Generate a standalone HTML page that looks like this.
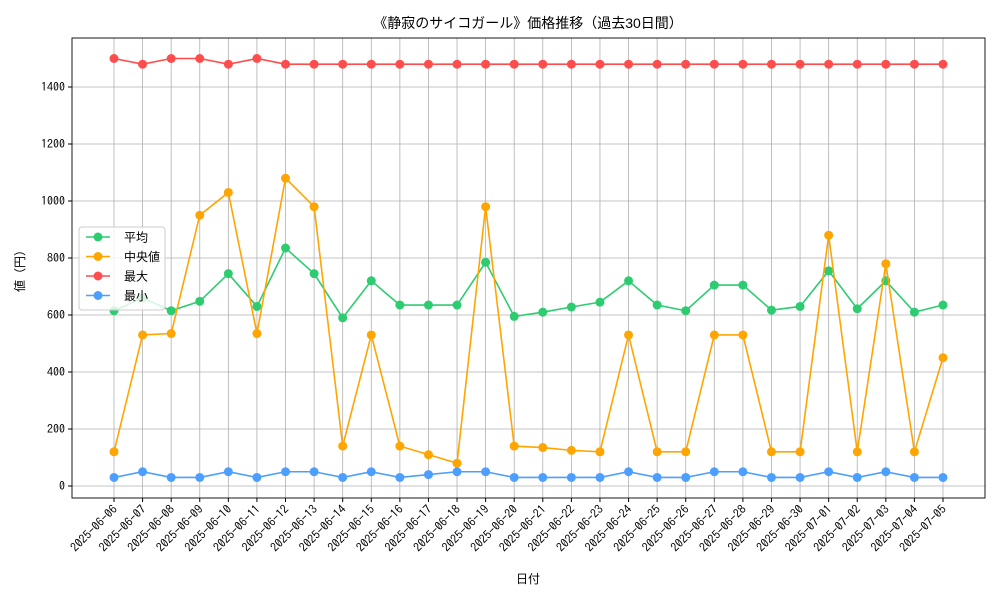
<!DOCTYPE html>
<html><head><meta charset="utf-8"><style>
body{margin:0;background:#fff}
svg text{font-family:"Liberation Sans","Noto Sans CJK JP",sans-serif;fill:#000}
svg text.tick{font-family:"IPAGothic","Noto Sans CJK JP",sans-serif}
</style></head><body>
<svg id="c" width="1000" height="600" xmlns="http://www.w3.org/2000/svg"></svg>
<script>
const dates=["2025-06-06","2025-06-07","2025-06-08","2025-06-09","2025-06-10","2025-06-11","2025-06-12","2025-06-13","2025-06-14","2025-06-15","2025-06-16","2025-06-17","2025-06-18","2025-06-19","2025-06-20","2025-06-21","2025-06-22","2025-06-23","2025-06-24","2025-06-25","2025-06-26","2025-06-27","2025-06-28","2025-06-29","2025-06-30","2025-07-01","2025-07-02","2025-07-03","2025-07-04","2025-07-05"];
const meanVals=[615,660,615,648,745,630,835,745,590,720,635,635,635,785,595,610,628,645,720,635,615,705,705,617,630,755,622,720,610,635];
const medianVals=[120,530,535,950,1030,535,1080,980,140,530,140,110,80,980,140,135,125,120,530,120,120,530,530,120,120,880,120,780,120,450];
const maxVals=[1500,1480,1500,1500,1480,1500,1480,1480,1480,1480,1480,1480,1480,1480,1480,1480,1480,1480,1480,1480,1480,1480,1480,1480,1480,1480,1480,1480,1480,1480];
const minVals=[30,50,30,30,50,30,50,50,30,50,30,40,50,50,30,30,30,30,50,30,30,50,50,30,30,50,30,50,30,30];
const yTicks=[0,200,400,600,800,1000,1200,1400];
const series=[["平均",meanVals,"#2ecc71","mean"],["中央値",medianVals,"#ffa500","median"],["最大",maxVals,"#ff4d4d","max"],["最小",minVals,"#4d9fff","min"]];
const L=72,R=985,T=38,B=498;
const xs=i=>114+i*(943-114)/(dates.length-1);
const ys=v=>486-v*(399/1400);
const svg=document.getElementById('c');const NS="http://www.w3.org/2000/svg";
function mk(t,a,p){const e=document.createElementNS(NS,t);for(const k in a)e.setAttribute(k,a[k]);(p||svg).appendChild(e);return e;}
const grid=mk('g',{});
dates.forEach((d,i)=>{const x=xs(i);mk('line',{x1:x,x2:x,y1:T,y2:B,stroke:'#b0b0b0','stroke-width':0.8},grid);
mk('line',{x1:x,x2:x,y1:B,y2:B+4,stroke:'#000'});
const t=mk('text',{class:'tick',x:x+4,y:B+12,'font-size':12,'text-anchor':'end',transform:`rotate(-45 ${x+4} ${B+12})`});t.textContent=d;
});
yTicks.forEach(v=>{const y=ys(v);mk('line',{x1:L,x2:R,y1:y,y2:y,stroke:'#b0b0b0','stroke-width':0.8},grid);
mk('line',{x1:L-4,x2:L,y1:y,y2:y,stroke:'#000'});
const t=mk('text',{class:'tick',x:L-7,y:y+4,'font-size':12,'text-anchor':'end'});t.textContent=v;
});
series.forEach(([n,vals,c,k])=>{const g=mk('g',{});
mk('polyline',{points:vals.map((v,i)=>xs(i)+','+ys(v)).join(' '),fill:'none',stroke:c,'stroke-width':1.6},g);
vals.forEach((v,i)=>{const p=mk('circle',{cx:xs(i),cy:ys(v),r:4.5,fill:c},g);});});
mk('rect',{x:L,y:T,width:R-L,height:B-T,fill:'none',stroke:'#000','stroke-width':0.9});
const lg=mk('g',{});
mk('rect',{x:79,y:227,width:86,height:83,rx:3,fill:'#fff','fill-opacity':0.8,stroke:'#ccc'},lg);
series.forEach(([n,v,c],i)=>{const y=237+i*19.5;mk('line',{x1:86,x2:110,y1:y,y2:y,stroke:c,'stroke-width':1.6},lg);
mk('circle',{cx:98,cy:y,r:4.5,fill:c},lg);const t=mk('text',{x:124,y:y+4.5,'font-size':12},lg);t.textContent=n;
});
let t=mk('text',{x:528,y:28,'font-size':14,'text-anchor':'middle'});t.textContent="《静寂のサイコガール》価格推移（過去30日間）";
t=mk('text',{x:528,y:583,'font-size':12,'text-anchor':'middle'});t.textContent="日付";
t=mk('text',{x:24,y:268,'font-size':12,'text-anchor':'middle',transform:'rotate(-90 24 268)'});t.textContent="値（円）";
</script>
</body></html>
